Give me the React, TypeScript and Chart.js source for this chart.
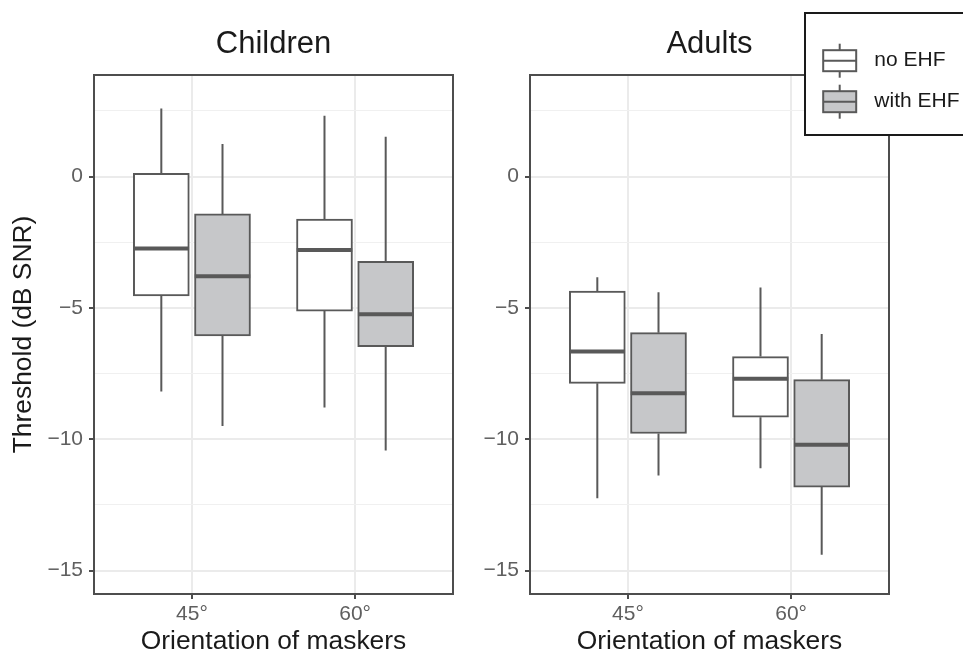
import React, { useEffect, useRef } from 'react';
import { Chart, registerables } from 'chart.js';

Chart.register(...registerables);

// ---------- data ----------
const categories = ['45°', '60°'];
const seriesNames = ['no EHF', 'with EHF'];
const yTickValues = [-15, -12.5, -10, -7.5, -5, -2.5, 0, 2.5];
const yTickLabels = ['−15', '', '−10', '', '−5', '', '0', ''];

// Children
const childrenNoLower = [-8.18, -8.79];
const childrenNoQ1 = [-4.54, -5.12];
const childrenNoMedian = [-2.74, -2.79];
const childrenNoQ3 = [0.13, -1.62];
const childrenNoUpper = [2.59, 2.32];

const childrenWithLower = [-9.49, -10.43];
const childrenWithQ1 = [-6.06, -6.47];
const childrenWithMedian = [-3.79, -5.24];
const childrenWithQ3 = [-1.42, -3.22];
const childrenWithUpper = [1.24, 1.52];

// Adults
const adultsNoLower = [-12.24, -11.1];
const adultsNoQ1 = [-7.87, -9.16];
const adultsNoMedian = [-6.66, -7.69];
const adultsNoQ3 = [-4.36, -6.85];
const adultsNoUpper = [-3.83, -4.22];

const adultsWithLower = [-11.38, -14.4];
const adultsWithQ1 = [-9.78, -11.82];
const adultsWithMedian = [-8.25, -10.21];
const adultsWithQ3 = [-5.94, -7.73];
const adultsWithUpper = [-4.4, -5.99];

const Y_MIN = -15.89;
const Y_MAX = 3.87;
const X_MIN = 0.4;
const X_MAX = 2.6;

// ---------- styles ----------
const FONT = "'Liberation Sans', Arial, Helvetica, sans-serif";
const LINE = '#595959';
const FILLS = ['#FFFFFF', '#C6C7C9'];
const DODGE = 0.1875;
const HALF_BOX = 0.17;

type Stats = { lower: number[]; q1: number[]; median: number[]; q3: number[]; upper: number[] };

const childrenStats: Stats[] = [
  { lower: childrenNoLower, q1: childrenNoQ1, median: childrenNoMedian, q3: childrenNoQ3, upper: childrenNoUpper },
  { lower: childrenWithLower, q1: childrenWithQ1, median: childrenWithMedian, q3: childrenWithQ3, upper: childrenWithUpper },
];
const adultsStats: Stats[] = [
  { lower: adultsNoLower, q1: adultsNoQ1, median: adultsNoMedian, q3: adultsNoQ3, upper: adultsNoUpper },
  { lower: adultsWithLower, q1: adultsWithQ1, median: adultsWithMedian, q3: adultsWithQ3, upper: adultsWithUpper },
];

const isMajor = (v: number) => Math.abs(v % 5) < 1e-9;

function buildDatasets(stats: Stats[]) {
  const whiskers: any[] = [];
  const medians: any[] = [];
  const bars: any[] = [];
  stats.forEach((s, si) => {
    const off = si === 0 ? -DODGE : DODGE;
    categories.forEach((_, i) => {
      const x = i + 1 + off;
      whiskers.push({ x, y: s.upper[i] }, { x, y: s.q3[i] }, { x, y: null });
      whiskers.push({ x, y: s.q1[i] }, { x, y: s.lower[i] }, { x, y: null });
      medians.push({ x: x - HALF_BOX, y: s.median[i] }, { x: x + HALF_BOX, y: s.median[i] }, { x, y: null });
    });
    bars.push({
      type: 'bar',
      label: seriesNames[si],
      data: categories.map((_, i) => ({ x: i + 1 + off, y: [s.q1[i], s.q3[i]] })),
      backgroundColor: FILLS[si],
      borderColor: LINE,
      borderWidth: 2,
      borderSkipped: false,
      grouped: false,
      barPercentage: 1,
      categoryPercentage: 1,
      maxBarThickness: 56,
      order: 2,
    });
  });
  return [
    {
      type: 'line',
      label: 'whiskers',
      data: whiskers,
      borderColor: LINE,
      borderWidth: 2,
      pointRadius: 0,
      spanGaps: false,
      borderCapStyle: 'butt',
      order: 3,
    },
    ...bars,
    {
      type: 'line',
      label: 'medians',
      data: medians,
      borderColor: LINE,
      borderWidth: 4,
      pointRadius: 0,
      spanGaps: false,
      borderCapStyle: 'butt',
      order: 1,
    },
  ];
}

const panelBorder = {
  id: 'panelBorder',
  afterDraw(chart: any) {
    const { ctx, chartArea: a } = chart;
    ctx.save();
    ctx.strokeStyle = '#4d4d4d';
    ctx.lineWidth = 2;
    ctx.strokeRect(a.left, a.top, a.right - a.left, a.bottom - a.top);
    ctx.restore();
  },
};

const legendPlugin = {
  id: 'boxLegend',
  afterDraw(chart: any) {
    const ctx = chart.ctx;
    const bx = 335;
    const by = 13;
    ctx.save();
    ctx.fillStyle = '#ffffff';
    ctx.fillRect(bx, by, 200, 122);
    ctx.strokeStyle = '#1a1a1a';
    ctx.lineWidth = 2;
    ctx.strokeRect(bx, by, 200, 122);
    const rows = [60.7, 101.7];
    rows.forEach((cy, i) => {
      const cx = 369.7;
      ctx.strokeStyle = LINE;
      ctx.lineWidth = 2;
      ctx.beginPath();
      ctx.moveTo(cx, cy - 17);
      ctx.lineTo(cx, cy + 17);
      ctx.stroke();
      ctx.fillStyle = FILLS[i];
      ctx.fillRect(cx - 16.5, cy - 10.5, 33, 21);
      ctx.strokeRect(cx - 16.5, cy - 10.5, 33, 21);
      ctx.beginPath();
      ctx.moveTo(cx - 16.5, cy);
      ctx.lineTo(cx + 16.5, cy);
      ctx.stroke();
      ctx.fillStyle = '#1a1a1a';
      ctx.font = `21px ${FONT}`;
      ctx.textBaseline = 'middle';
      ctx.textAlign = 'left';
      ctx.fillText(seriesNames[i], 404.3, cy);
    });
    ctx.restore();
  },
};

function makeConfig(title: string, stats: Stats[], yWidth: number, padRight: number, showYTitle: boolean, withLegend: boolean): any {
  const tickColor = '#5f5f5f';
  return {
    data: { datasets: buildDatasets(stats) },
    plugins: withLegend ? [panelBorder, legendPlugin] : [panelBorder],
    options: {
      responsive: false,
      animation: false,
      devicePixelRatio: 1,
      layout: { padding: { left: 0, right: padRight, top: 0, bottom: 0 } },
      plugins: {
        legend: { display: false },
        tooltip: { enabled: false },
        title: {
          display: true,
          text: title,
          fullSize: false,
          color: '#1a1a1a',
          font: { family: FONT, size: 31, weight: 'normal' },
          padding: { top: 25.9, bottom: 11.9 },
        },
      },
      scales: {
        x: {
          type: 'linear',
          min: X_MIN,
          max: X_MAX,
          bounds: 'data',
          offset: false,
          afterBuildTicks: (s: any) => {
            s.ticks = categories.map((_, i) => ({ value: i + 1 }));
          },
          afterFit: (s: any) => {
            s.height = 60;
          },
          ticks: {
            autoSkip: false,
            maxRotation: 0,
            padding: 3,
            color: tickColor,
            font: { family: FONT, size: 21 },
            callback: (v: number) => categories[Math.round(v) - 1] ?? '',
          },
          grid: { offset: false, color: '#EBEBEB', lineWidth: 2, tickLength: 5, tickColor: '#4d4d4d', tickWidth: 2 },
          border: { display: false },
          title: {
            display: true,
            text: 'Orientation of maskers',
            color: '#1a1a1a',
            font: { family: FONT, size: 26.4, lineHeight: 0.9 },
            padding: { top: 0, bottom: 0 },
          },
        },
        y: {
          type: 'linear',
          min: Y_MIN,
          max: Y_MAX,
          bounds: 'data',
          afterBuildTicks: (s: any) => {
            s.ticks = yTickValues.map((v) => ({ value: v }));
          },
          afterFit: (s: any) => {
            s.width = yWidth;
          },
          ticks: {
            autoSkip: false,
            padding: 6,
            color: tickColor,
            font: { family: FONT, size: 21 },
            callback: (v: number) => {
              const idx = yTickValues.findIndex((t) => Math.abs(t - v) < 1e-9);
              return idx >= 0 ? yTickLabels[idx] : '';
            },
          },
          grid: {
            color: (c: any) => (c.tick && isMajor(c.tick.value) ? '#EBEBEB' : '#F0F0F0'),
            lineWidth: (c: any) => (c.tick && isMajor(c.tick.value) ? 2 : 1),
            tickLength: 5,
            tickColor: (c: any) => (c.tick && isMajor(c.tick.value) ? '#4d4d4d' : 'rgba(0,0,0,0)'),
            tickWidth: 2,
          },
          border: { display: false },
          title: {
            display: showYTitle,
            text: 'Threshold (dB SNR)',
            color: '#1a1a1a',
            font: { family: FONT, size: 26.4 },
            padding: { top: 8.2, bottom: 0 },
          },
        },
      },
    },
  };
}

function Panel(props: { left: number; width: number; cfg: () => any }) {
  const ref = useRef<HTMLCanvasElement | null>(null);
  useEffect(() => {
    if (!ref.current) return;
    const chart = new Chart(ref.current, props.cfg());
    return () => chart.destroy();
  }, []);
  return (
    <canvas
      ref={ref}
      width={props.width}
      height={654}
      style={{ position: 'absolute', left: props.left, top: 0, width: props.width, height: 654 }}
    />
  );
}

export default function App() {
  Chart.defaults.font.family = FONT;
  return (
    <div style={{ position: 'absolute', left: 0, top: 0, width: 963, height: 654, background: '#ffffff', overflow: 'hidden' }}>
      <Panel left={0} width={470} cfg={() => makeConfig('Children', childrenStats, 94, 17, true, false)} />
      <Panel left={470} width={493} cfg={() => makeConfig('Adults', adultsStats, 60, 74, false, true)} />
    </div>
  );
}
